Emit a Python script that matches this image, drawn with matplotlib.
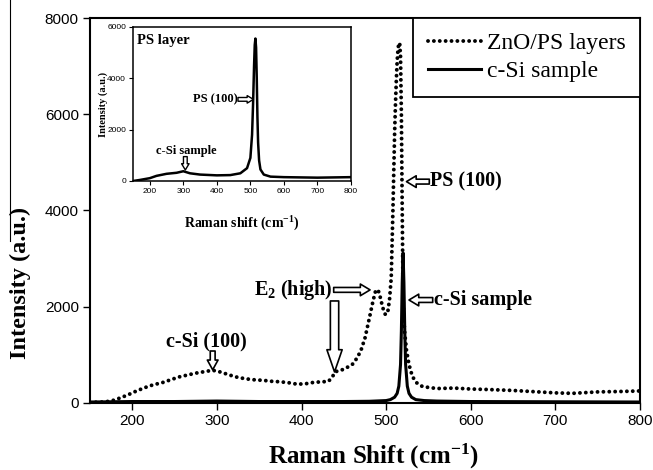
import matplotlib
matplotlib.use("Agg")
import matplotlib.pyplot as plt
from matplotlib.lines import Line2D

plt.rcParams['font.family'] = ['Liberation Sans', 'DejaVu Sans']
plt.rcParams['mathtext.fontset'] = 'custom'
plt.rcParams['mathtext.rm'] = 'Liberation Serif:bold'
plt.rcParams['mathtext.bf'] = 'Liberation Serif:bold'
plt.rcParams['mathtext.it'] = 'Liberation Serif:bold'

# ---------------- data ----------------
zno_x = [150, 165, 175, 185, 195, 205, 215, 225, 235, 245, 255, 265, 275, 285, 295,
         305, 315, 325, 335, 345, 355, 365, 375, 385, 395, 405, 415, 425, 432, 437,
         440, 450, 460, 465, 470, 475, 480, 484, 487, 489, 491, 493, 496, 499, 501,
         502, 504, 506, 507, 508, 509, 510, 511, 512, 513, 514, 515, 516, 517, 518,
         519, 520, 521, 522, 524, 527, 531, 536, 543, 560, 580, 600, 620, 650, 680,
         700, 720, 750, 780, 800]
zno_y = [10, 20, 40, 100, 170, 250, 320, 380, 420, 480, 540, 580, 620, 650, 680,
         640, 580, 530, 500, 480, 470, 450, 440, 420, 390, 400, 430, 440, 450, 560,
         650, 700, 800, 920, 1080, 1350, 1750, 2080, 2300, 2360, 2320, 2200, 1980, 1840, 1850,
         1900, 2150, 2600, 3300, 4000, 4800, 5600, 6200, 6700, 7100, 7350, 7480, 7480, 7200, 6000,
         4000, 2200, 1700, 1450, 1100, 800, 550, 420, 340, 300, 310, 290, 280, 260, 230,
         210, 200, 230, 240, 250]

csi_x = [150, 200, 250, 300, 350, 400, 450, 480, 500, 505, 510, 513, 515, 517, 518,
         519, 520, 521, 522, 523, 525, 527, 530, 535, 545, 560, 600, 700, 800]
csi_y = [20, 30, 30, 40, 30, 30, 30, 35, 50, 70, 120, 200, 350, 800, 1500,
         2500, 3120, 2500, 1500, 800, 350, 200, 120, 70, 50, 40, 30, 25, 20]

ps_x = [150, 170, 200, 220, 250, 280, 300, 320, 350, 400, 440, 470, 490, 500, 505,
        508, 511, 513, 515, 517, 519, 521, 523, 526, 530, 540, 560, 600, 700, 800]
ps_y = [0, 40, 110, 200, 280, 320, 380, 300, 250, 220, 230, 300, 500, 900, 1800,
        3000, 4500, 5300, 5550, 5200, 4000, 2500, 1500, 800, 450, 250, 170, 150, 130, 150]

main_xticks = [200, 300, 400, 500, 600, 700, 800]
main_yticks = [0, 2000, 4000, 6000, 8000]
inset_yticks = [0, 2000, 4000, 6000]

# ---------------- figure ----------------
fig = plt.figure(figsize=(6.53, 4.70), dpi=100)
ax = fig.add_axes([0.1378, 0.1426, 0.8423, 0.8191])

ax.plot(zno_x, zno_y, color='black', lw=2.8, linestyle=(0, (0.01, 1.5)),
        dash_capstyle='round', label='ZnO/PS layers')
ax.plot(csi_x, csi_y, color='black', lw=2.2, label='c-Si sample')

ax.set_xlim(150, 800)
ax.set_ylim(0, 8000)
ax.set_xticks(main_xticks)
ax.set_yticks(main_yticks)
ax.tick_params(direction='out', length=5, width=1, labelsize=11, pad=3)
for s in ax.spines.values():
    s.set_linewidth(1.5)

ax.set_xlabel(r'Raman Shift (cm$^{-1}$)', fontsize=18, fontweight='bold',
              family='Liberation Serif')
ax.xaxis.set_label_coords(0.515, -0.100)
ax.set_ylabel('Intensity (a.u.)', fontsize=17.5, fontweight='bold',
              family='Liberation Serif')
ax.yaxis.set_label_coords(-0.107, 0.312)

leg = ax.legend(loc='upper right', bbox_to_anchor=(1.0, 1.0), borderaxespad=0,
                fancybox=False, edgecolor='black', framealpha=1,
                prop={'family': 'Liberation Serif', 'size': 17},
                handlelength=2.25, handletextpad=0.25, borderpad=0.62,
                labelspacing=0.28)
leg.get_frame().set_linewidth(1.3)

ann_font = dict(family='Liberation Serif', fontweight='bold', fontsize=14.5)

def hollow(axis, head, tail, scale=14, hl=0.5, hw=0.6, tw=0.25, lw=1.2):
    axis.annotate('', xy=head, xytext=tail,
                  arrowprops=dict(arrowstyle=f'simple,head_length={hl},head_width={hw},tail_width={tw}',
                                  fc='white', ec='black', lw=lw, mutation_scale=scale,
                                  shrinkA=0, shrinkB=0))

# PS (100)
hollow(ax, (524, 4600), (551, 4600))
ax.text(552, 4600, 'PS (100)', ha='left', va='center', **ann_font)
# c-Si sample
hollow(ax, (527, 2140), (555, 2140))
ax.text(556, 2140, 'c-Si sample', ha='left', va='center', **ann_font)
# E2 (high)
ax.text(437, 2350, r'E$_2$ (high)', ha='right', va='center', **ann_font)
hollow(ax, (481, 2350), (438, 2350))
hollow(ax, (439, 645), (439, 2120), scale=20, hl=0.8, hw=0.55, tw=0.3)
# c-Si (100)
ax.text(288, 1280, 'c-Si (100)', ha='center', va='center', **ann_font)
hollow(ax, (295, 690), (295, 1080), scale=14, hl=0.5, hw=0.55, tw=0.25)

# ---------------- inset ----------------
ins = fig.add_axes([0.2037, 0.6149, 0.3338, 0.3277])
ins.plot(ps_x, ps_y, color='black', lw=1.8)
ins.set_xlim(150, 800)
ins.set_ylim(0, 6000)
ins.set_xticks(main_xticks)
ins.set_yticks(inset_yticks)
ins.tick_params(direction='out', length=3, width=0.8, labelsize=6, pad=2)
for s in ins.spines.values():
    s.set_linewidth(1.1)
ins.set_xlabel(r'Raman shift (cm$^{-1}$)', fontsize=10, fontweight='bold',
               family='Liberation Serif')
ins.xaxis.set_label_coords(0.5, -0.22)
ins.set_ylabel('Intensity (a.u.)', fontsize=7.5, fontweight='bold',
               family='Liberation Serif')
ins.yaxis.set_label_coords(-0.115, 0.5)

ins_font = dict(family='Liberation Serif', fontweight='bold', fontsize=9)
ins.text(0.02, 0.915, 'PS layer', transform=ins.transAxes, ha='left', va='center',
         family='Liberation Serif', fontweight='bold', fontsize=10.5)
ins.text(461, 3180, 'PS (100)', ha='right', va='center', **ins_font)
hollow(ins, (509, 3180), (463, 3180), scale=9, hl=0.5, hw=0.6, tw=0.3, lw=1.0)
ins.text(309, 1180, 'c-Si sample', ha='center', va='center', **ins_font)
hollow(ins, (306, 430), (306, 950), scale=9, hl=0.5, hw=0.6, tw=0.3, lw=1.0)

# scan artifact line at the far left
fig.add_artist(Line2D([0.0153, 0.0153], [1.0, 0.487], color='black', lw=0.8,
                      transform=fig.transFigure))

fig.savefig('out.png', dpi=100)
